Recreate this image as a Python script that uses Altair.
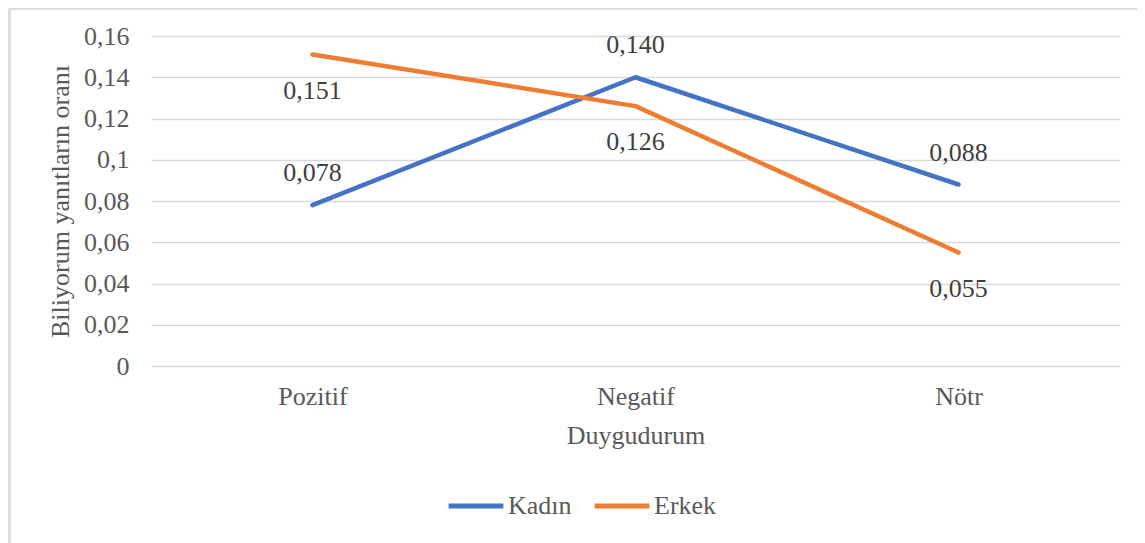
import altair as alt
import pandas as pd

categories = ["Pozitif", "Negatif", "Nötr"]
kadin = [0.078, 0.140, 0.088]
erkek = [0.151, 0.126, 0.055]
series_names = ["Kadın", "Erkek"]
y_ticks = [0, 0.02, 0.04, 0.06, 0.08, 0.10, 0.12, 0.14, 0.16]

rows = []
for i, c in enumerate(categories):
    rows.append({"Duygudurum": c, "seri": "Kadın", "oran": kadin[i]})
    rows.append({"Duygudurum": c, "seri": "Erkek", "oran": erkek[i]})
df = pd.DataFrame(rows)

FONT = "Liberation Serif"
GREY = "#595959"
FS = 26

x_enc = alt.X(
    "Duygudurum:N",
    sort=categories,
    scale=alt.Scale(padding=0.5),
    axis=alt.Axis(
        title="Duygudurum",
        labelAngle=0,
        ticks=False,
        domain=False,
        grid=False,
        labelFont=FONT,
        labelFontSize=FS,
        labelColor=GREY,
        labelPadding=17,
        titleFont=FONT,
        titleFontSize=FS,
        titleFontWeight="normal",
        titleColor=GREY,
        titlePadding=13,
    ),
)
y_enc = alt.Y(
    "oran:Q",
    scale=alt.Scale(domain=[0, 0.16], nice=False),
    axis=alt.Axis(
        title="Biliyorum yanıtların oranı",
        values=y_ticks,
        labelExpr="replace(format(datum.value, '~g'), '.', ',')",
        ticks=False,
        domain=False,
        gridColor="#d9d9d9",
        gridWidth=1.5,
        labelFont=FONT,
        labelFontSize=FS,
        labelColor=GREY,
        labelPadding=22,
        titleFont=FONT,
        titleFontSize=FS,
        titleFontWeight="normal",
        titleColor=GREY,
        titlePadding=10,
    ),
)
color_enc = alt.Color(
    "seri:N",
    sort=series_names,
    scale=alt.Scale(domain=series_names, range=["#4472C4", "#ED7D31"]),
    legend=alt.Legend(
        title=None,
        orient="none",
        direction="horizontal",
        legendX=295,
        legendY=440,
        symbolType="stroke",
        symbolSize=3000,
        symbolStrokeWidth=5,
        labelFont=FONT,
        labelFontSize=FS,
        labelColor=GREY,
        labelOffset=2,
        columnPadding=12,
    ),
)

lines = alt.Chart(df).mark_line(strokeWidth=4.5, strokeCap="round", strokeJoin="round").encode(
    x=x_enc, y=y_enc, color=color_enc
)

label_fmt = "replace(format(datum.oran, '.3f'), '.', ',')"
labels_k = (
    alt.Chart(df)
    .transform_filter(alt.datum.seri == "Kadın")
    .transform_calculate(lbl=label_fmt)
    .mark_text(font=FONT, fontSize=FS, color="#404040", dy=-32, baseline="middle")
    .encode(x=alt.X("Duygudurum:N", sort=categories), y="oran:Q", text="lbl:N")
)
labels_e = (
    alt.Chart(df)
    .transform_filter(alt.datum.seri == "Erkek")
    .transform_calculate(lbl=label_fmt)
    .mark_text(font=FONT, fontSize=FS, color="#404040", dy=36, baseline="middle")
    .encode(x=alt.X("Duygudurum:N", sort=categories), y="oran:Q", text="lbl:N")
)

# decorative chart-area frame (left and top edges)
frame_left = alt.Chart(df).mark_rule(color="#d9d9d9", strokeWidth=1.5).encode(
    x=alt.value(-141.5), y=alt.value(-27.5), y2=alt.value(530)
)
frame_top = alt.Chart(df).mark_rule(color="#d9d9d9", strokeWidth=1.5).encode(
    x=alt.value(-142), x2=alt.value(1000), y=alt.value(-27.5)
)

chart = (
    alt.layer(frame_left, frame_top, lines, labels_k, labels_e)
    .properties(
        width=969,
        height=330,
        padding={"left": 143, "top": 28, "right": 17, "bottom": 177},
        autosize=alt.AutoSizeParams(type="none"),
        background="white",
    )
    .configure_view(strokeWidth=0)
)

chart.save("out.html", embed_options={"renderer": "svg", "actions": False})
